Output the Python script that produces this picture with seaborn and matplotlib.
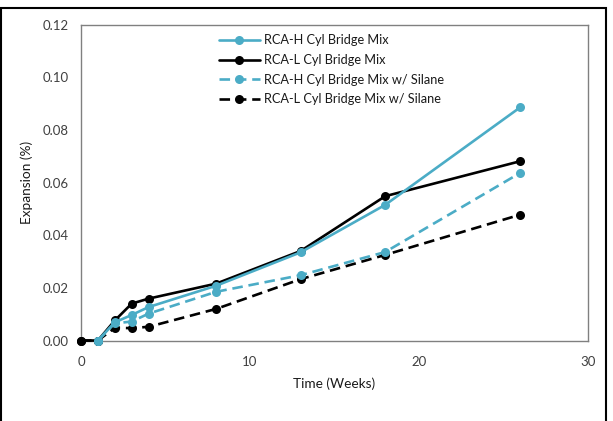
import matplotlib
matplotlib.use("Agg")
import matplotlib.pyplot as plt
import seaborn as sns
from matplotlib.patches import Rectangle

weeks_h = [1, 2, 3, 4, 8, 13, 18, 26]
weeks_l = [0, 1, 2, 3, 4, 8, 13, 18, 26]

rca_h = [0.0, 0.0069, 0.0097, 0.0127, 0.0208, 0.0335, 0.0515, 0.0886]
rca_l = [0.0, 0.0, 0.0076, 0.0140, 0.0159, 0.0216, 0.0340, 0.0548, 0.0681]
rca_h_sil = [0.0, 0.0065, 0.0072, 0.0102, 0.0185, 0.0248, 0.0336, 0.0637]
rca_l_sil = [0.0, 0.0, 0.0048, 0.0047, 0.0052, 0.0120, 0.0233, 0.0325, 0.0478]

labels = ["RCA-H Cyl Bridge Mix", "RCA-L Cyl Bridge Mix",
          "RCA-H Cyl Bridge Mix w/ Silane", "RCA-L Cyl Bridge Mix w/ Silane"]

x_ticks = [0, 10, 20, 30]
y_ticks = [0.00, 0.02, 0.04, 0.06, 0.08, 0.10, 0.12]

sns.set_theme(style="white")
plt.rcParams['font.family'] = ['Lato', 'DejaVu Sans']

cyan = "#4BACC6"
black = "#000000"
dash = (0, (4.0, 2.2))

fig = plt.figure(figsize=(6.13, 4.21), dpi=100)
ax = fig.add_axes([81/613, 1-340.5/421, (588-81)/613, (340.5-24.5)/421])

series = [
    (weeks_h, rca_h, cyan, "-", 4),
    (weeks_l, rca_l, black, "-", 3),
    (weeks_h, rca_h_sil, cyan, dash, 4),
    (weeks_l, rca_l_sil, black, dash, 3),
]
for (wx, wy, c, ls, z), lab in zip(series, labels):
    sns.lineplot(x=wx, y=wy, ax=ax, color=c, linestyle=ls, linewidth=1.9,
                 marker="o", markersize=6.5, markeredgewidth=0,
                 label=lab, zorder=z, sort=False, clip_on=False)

ax.set_xlim(0, 30)
ax.set_ylim(0, 0.12)
ax.set_xticks(x_ticks)
ax.set_yticks(y_ticks)
ax.set_yticklabels([f"{v:.2f}" for v in y_ticks])
ax.tick_params(axis="x", which="major", direction="out", length=5, width=1,
               color="#767676", labelsize=9.5, labelcolor="#404040", pad=6)
ax.tick_params(axis="y", length=0, labelsize=9.5, labelcolor="#404040", pad=9)
for s in ax.spines.values():
    s.set_color("#808080")
    s.set_linewidth(1.0)
    s.set_visible(True)
ax.grid(False)

ax.set_xlabel("Time (Weeks)", fontsize=9.8, color="#1a1a1a", labelpad=7)
ax.set_ylabel("Expansion (%)", fontsize=9.8, color="#1a1a1a", labelpad=7)

leg = ax.legend(loc="upper left", bbox_to_anchor=(0.262, 0.985), frameon=False,
                fontsize=9.2, handlelength=3.2, handletextpad=0.35,
                labelspacing=0.6, borderaxespad=0)
for t in leg.get_texts():
    t.set_color("#1a1a1a")

fig.patches.append(Rectangle((1/613, -0.01), 605/613, 1 - 8/421 + 0.01,
                             transform=fig.transFigure, fill=False,
                             edgecolor="black", linewidth=1.5))

fig.savefig("out.png", dpi=100)
